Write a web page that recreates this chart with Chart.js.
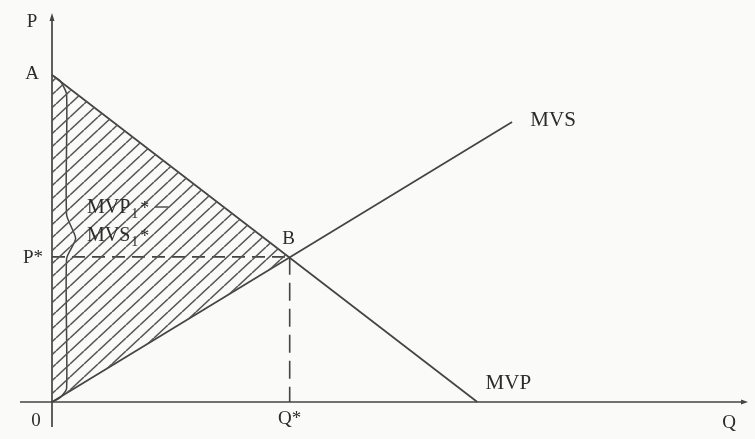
<!DOCTYPE html>
<html>
<head>
<meta charset="utf-8">
<script src="https://cdn.jsdelivr.net/npm/chart.js@4.4.1/dist/chart.umd.min.js"></script>
<style>
  html, body { margin: 0; padding: 0; background: #fafaf8; }
  #wrap { width: 755px; height: 439px; }
</style>
</head>
<body>
<div id="wrap"><canvas id="diagram" width="755" height="439"></canvas></div>
<script>
// --- values (Q on x, P on y, both 0..100) ---
const mvpQ = [0, 61.2];        // demand curve MVP, from A to the Q axis
const mvpP = [85.6, 0];
const mvsQ = [0, 66.2];        // supply curve MVS, from the origin
const mvsP = [0, 73.3];
const eqQ = [34.2];            // equilibrium B = (Q*, P*)
const eqP = [38];
const braceQ = [0, 1.2, 2.1, 2.1, 3.4, 2.1, 2.1, 1.2, 0];
const braceP = [85.6, 84, 80.5, 49, 42.8, 37.5, 3.5, 1.2, 0];

const ink = '#444';
const textInk = '#2c2c2c';
const serif = "'Liberation Serif', 'DejaVu Serif', serif";

const pts = (xs, ys) => xs.map((x, i) => ({ x, y: ys[i] }));

// hatch pattern: "/" lines, 14px apart horizontally, 13px vertically
const makeHatch = () => {
    const w = 14, h = 13;
    const c = document.createElement('canvas');
    c.width = w; c.height = h;
    const g = c.getContext('2d');
    g.strokeStyle = '#555';
    g.lineWidth = 1.5;
    [-w, 0, w].forEach(dx => {
        g.beginPath();
        g.moveTo(dx, h);
        g.lineTo(dx + w, 0);
        g.stroke();
    });
    return g.createPattern(c, 'repeat');
};

const line = (data, extra) => Object.assign({
    data, borderColor: ink, borderWidth: 1.7, pointRadius: 0,
    fill: false, tension: 0, clip: false
}, extra);

const B = { x: eqQ[0], y: eqP[0] };

const annotations = {
    id: 'annotations',
    beforeDatasetsDraw(chart) {
        const { ctx, scales: { x, y } } = chart;
        const x0 = x.getPixelForValue(0), y0 = y.getPixelForValue(0);
        ctx.save();
        ctx.strokeStyle = ink;
        ctx.fillStyle = ink;
        ctx.lineWidth = 1.7;
        // axes
        ctx.beginPath();
        ctx.moveTo(x0, y0 + 25);
        ctx.lineTo(x0, y.getPixelForValue(100) - 2);
        ctx.moveTo(x0 - 32, y0);
        ctx.lineTo(x.getPixelForValue(100) - 2, y0);
        ctx.stroke();
        // arrow tips
        const yt = y.getPixelForValue(100) - 3;
        ctx.beginPath();
        ctx.moveTo(x0, yt - 4); ctx.lineTo(x0 - 2.5, yt + 4); ctx.lineTo(x0 + 2.5, yt + 4);
        ctx.closePath(); ctx.fill();
        const xr = x.getPixelForValue(100);
        ctx.beginPath();
        ctx.moveTo(xr + 1, y0); ctx.lineTo(xr - 6, y0 - 2.5); ctx.lineTo(xr - 6, y0 + 2.5);
        ctx.closePath(); ctx.fill();
        ctx.restore();
    },
    afterDatasetsDraw(chart) {
        const { ctx, scales: { x, y } } = chart;
        const px = v => x.getPixelForValue(v), py = v => y.getPixelForValue(v);
        ctx.save();
        ctx.fillStyle = textInk;
        ctx.textAlign = 'center';
        ctx.textBaseline = 'middle';
        ctx.font = `19px ${serif}`;
        ctx.fillText('P', px(0) - 20, py(100) + 2);
        ctx.fillText('A', px(0) - 20, py(mvpP[0]) - 1);
        ctx.fillText('P*', px(0) - 19, py(B.y) + 1);
        ctx.fillText('0', px(0) - 16, py(0) + 19);
        ctx.fillText('Q*', px(B.x), py(0) + 17);
        ctx.fillText('Q', px(100) - 18, py(0) + 21);
        ctx.fillText('B', px(B.x) - 1, py(B.y) - 18);
        ctx.font = `21px ${serif}`;
        ctx.fillText('MVS', px(mvsQ[1]) + 41, py(mvsP[1]) - 2);
        ctx.fillText('MVP', px(mvpQ[1]) + 31, py(0) - 19);

        // MVP1* and MVS1* next to the brace
        const sub = (base, lx, ly) => {
            ctx.textAlign = 'left';
            ctx.textBaseline = 'alphabetic';
            ctx.font = `20px ${serif}`;
            ctx.fillText(base, lx, ly);
            let w = ctx.measureText(base).width;
            ctx.font = `14px ${serif}`;
            ctx.fillText('1', lx + w + 1, ly + 5);
            w += ctx.measureText('1').width + 3;
            ctx.font = `18px ${serif}`;
            ctx.fillText('*', lx + w, ly + 1);
            return lx + w + ctx.measureText('*').width;
        };
        const endP = sub('MVP', 87, 213);
        ctx.strokeStyle = ink;
        ctx.lineWidth = 1.4;
        ctx.beginPath();
        ctx.moveTo(endP + 6, 207);
        ctx.lineTo(endP + 19, 207);
        ctx.stroke();
        sub('MVS', 87, 241);
        ctx.restore();
    }
};

new Chart(document.getElementById('diagram'), {
    type: 'line',
    data: {
        datasets: [
            // hatched welfare triangle A-B-0
            line([{ x: 0, y: mvpP[0] }, B], { borderWidth: 0, fill: '+1', backgroundColor: makeHatch() }),
            line([{ x: 0, y: 0 }, B], { borderWidth: 0 }),
            line(pts(mvpQ, mvpP)),
            line(pts(mvsQ, mvsP)),
            line([{ x: 0, y: B.y }, B], { borderDash: [13, 7], borderWidth: 1.6 }),
            line([B, { x: B.x, y: 0 }], { borderDash: [18, 8], borderWidth: 1.6 }),
            line(pts(braceQ, braceP), { tension: 0.2, borderWidth: 1.5 })
        ]
    },
    options: {
        responsive: false,
        animation: false,
        devicePixelRatio: 1,
        layout: { padding: { left: 52, right: 8, top: 20, bottom: 37 } },
        scales: {
            x: { type: 'linear', min: 0, max: 100, display: false },
            y: { type: 'linear', min: 0, max: 100, display: false }
        },
        plugins: { legend: { display: false }, tooltip: { enabled: false } }
    },
    plugins: [annotations]
});
</script>
</body>
</html>
